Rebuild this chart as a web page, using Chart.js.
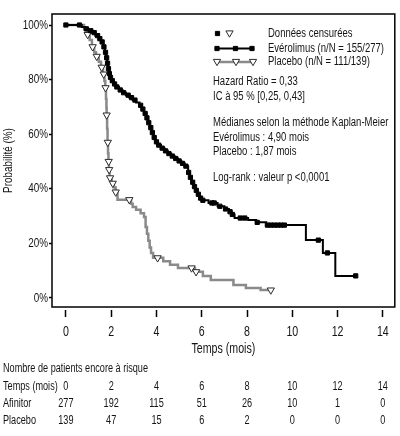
<!DOCTYPE html>
<html><head><meta charset="utf-8">
<script src="https://cdn.jsdelivr.net/npm/chart.js@4.4.0/dist/chart.umd.min.js"></script>
<style>html,body{margin:0;padding:0;background:#fff;overflow:hidden}#wrap{width:400px;height:436px;position:relative}</style>
</head><body><div id="wrap"><canvas id="c"></canvas></div>
<script>
const FONT = '"Liberation Sans","Arial",sans-serif';
const CONDENSE = 0.76; // horizontal text condensing (narrow face look)

// Evérolimus (Afinitor) Kaplan-Meier steps: time (months), survival (%)
const everoTime = [0,0.7,0.85,1.0,1.15,1.3,1.45,1.55,1.65,1.72,1.78,1.82,1.86,1.9,1.95,2.0,2.1,2.2,2.35,2.5,2.65,2.8,2.95,3.1,3.25,3.35,3.45,3.55,3.62,3.7,3.78,3.86,3.95,4.05,4.2,4.35,4.5,4.65,4.8,4.95,5.1,5.25,5.4,5.48,5.56,5.64,5.72,5.8,5.9,6.0,6.3,6.7,7.0,7.2,7.32,7.45,8.05,8.4,8.85,10.6,11.35,11.9,12.8];
const everoSurv = [100,99.3,98.6,97.9,97.2,96.1,95.0,93.8,92.0,90.0,88.0,86.0,84.0,82.2,80.8,79.6,78.4,77.3,76.2,75.2,74.3,73.4,72.5,71.6,70.6,69.2,67.6,66.0,64.2,62.4,60.6,58.8,57.2,56.0,54.9,53.9,52.9,52.0,51.1,50.2,49.3,48.3,46.0,44.2,42.4,40.8,39.4,38.0,36.6,35.8,34.8,33.6,32.6,31.6,30.6,29.3,28.6,27.7,26.7,21.2,16.5,8.1,8.1];
// Evérolimus censored observations
const everoCensTime = [0,0.6,0.9,1.1,1.25,1.4,1.5,1.6,1.68,1.75,1.8,1.84,1.88,1.92,1.97,2.05,2.15,2.25,2.4,2.55,2.75,2.9,3.05,3.3,3.4,3.5,3.58,3.66,3.75,3.82,3.9,4.0,4.1,4.25,4.4,4.55,4.7,4.85,5.0,5.15,5.3,5.42,5.5,5.6,5.68,5.76,5.85,5.95,6.05,6.45,6.55,6.8,7.05,7.25,7.35,7.7,7.9,8.45,8.9,9.05,9.2,9.35,9.5,9.65,11.15,11.55,12.8];
const everoCensSurv = [100,100,98.6,97.9,97.2,96.1,95.0,93.8,92.0,90.0,88.0,86.0,84.0,82.2,80.8,79.6,78.4,77.3,76.2,75.2,74.3,73.4,72.5,70.6,69.2,67.6,66.0,64.2,62.4,60.6,58.8,57.2,56.0,54.9,53.9,52.9,52.0,51.1,50.2,49.3,48.3,46.0,44.2,42.4,40.8,39.4,38.0,36.6,35.8,34.8,34.8,33.6,32.6,31.6,30.6,29.3,29.3,27.7,26.7,26.7,26.7,26.7,26.7,26.7,21.2,16.5,8.1];

// Placebo Kaplan-Meier steps
const placeboTime = [0,0.8,0.92,1.05,1.15,1.25,1.33,1.45,1.55,1.64,1.7,1.74,1.77,1.79,1.8,1.82,1.84,1.86,1.88,1.9,1.93,2.02,2.12,2.2,2.28,2.88,2.95,3.1,3.3,3.45,3.52,3.58,3.64,3.7,3.76,3.85,4.3,4.6,4.95,5.7,6.05,6.4,7.4,7.95,8.6,9.05];
const placeboSurv = [100,98.5,96.5,94.5,92.0,90.0,88.5,86.5,84.5,82.0,79.5,77.0,73.0,69.5,67.0,62.0,57.0,53.0,50.0,47.0,44.0,42.0,40.5,38.8,36.0,34.5,33.3,32.3,31.0,29.7,26.0,23.5,21.0,18.5,16.5,14.7,13.5,12.2,11.0,9.6,8.1,6.6,4.8,3.7,2.9,2.9];
// Placebo censored observations
const placeboCensTime = [0.96,1.18,1.36,1.58,1.67,1.75,1.8,1.85,1.89,1.91,1.95,2.07,2.2,2.8,4.05,5.55,5.75,9.05];
const placeboCensSurv = [96.5,92.0,88.5,84.5,82.0,77.0,67.0,57.0,50.0,47.0,44.0,42.0,38.8,36.0,14.7,11.0,9.6,2.9];

const xTicks = [0,2,4,6,8,10,12,14];
const yTicks = [0,20,40,60,80,100];

// Number at risk table
const riskTitle = 'Nombre de patients encore à risque';
const riskRowLabels = ['Temps (mois)','Afinitor','Placebo'];
const riskTimes = [0,2,4,6,8,10,12,14];
const riskAfinitor = [277,192,115,51,26,10,1,0];
const riskPlacebo = [139,47,15,6,2,0,0,0];

// Legend / annotation texts
const legendLabels = ['Données censurées','Evérolimus (n/N = 155/277)','Placebo (n/N = 111/139)'];
const statLines = ['Hazard Ratio = 0,33','IC à 95 % [0,25, 0,43]','Médianes selon la méthode Kaplan-Meier','Evérolimus : 4,90 mois','Placebo : 1,87 mois','Log-rank : valeur p <0,0001'];

const toXY = (xs, ys) => xs.map((x, i) => ({x, y: ys[i]}));

const BLACK = '#000';
const GREY = '#8a8a8a';
const TXT = '#141414';
const TRI_EDGE = '#2a2a2a';

// condensed text rendering on the canvas context (keeps real fillText text)
const canvas = document.getElementById('c');
const ctx0 = canvas.getContext('2d');
const origFill = ctx0.fillText.bind(ctx0);
const origMeasure = ctx0.measureText.bind(ctx0);
ctx0.fillText = function(t, x, y, mw) {
  this.save(); this.translate(x, y); this.scale(CONDENSE, 1);
  if (mw === undefined || mw === null) origFill(t, 0, 0); else origFill(t, 0, 0, mw / CONDENSE);
  this.restore();
};
ctx0.measureText = function(t) {
  const m = origMeasure(t);
  return {width: m.width * CONDENSE, actualBoundingBoxLeft: m.actualBoundingBoxLeft * CONDENSE,
    actualBoundingBoxRight: m.actualBoundingBoxRight * CONDENSE, actualBoundingBoxAscent: m.actualBoundingBoxAscent,
    actualBoundingBoxDescent: m.actualBoundingBoxDescent, fontBoundingBoxAscent: m.fontBoundingBoxAscent,
    fontBoundingBoxDescent: m.fontBoundingBoxDescent};
};

const sqStyle = {pointStyle:'rect', radius:3, rotation:0, borderWidth:1, backgroundColor:BLACK, borderColor:BLACK};
const triStyle = {pointStyle:'triangle', radius:4.2, rotation:180, borderWidth:1, backgroundColor:'#fff', borderColor:TRI_EDGE};

function legendMark(ctx, st, px, py) {
  ctx.save();
  ctx.fillStyle = st.backgroundColor; ctx.strokeStyle = st.borderColor; ctx.lineWidth = st.borderWidth;
  Chart.helpers.drawPoint(ctx, st, px, py);
  ctx.restore();
}

const decor = {
  id:'decor',
  afterDraw(chart){
    const {ctx, chartArea:a, scales:{x}} = chart;
    ctx.save();
    // frame
    ctx.strokeStyle = BLACK; ctx.lineWidth = 1.5;
    ctx.strokeRect(a.left, a.top, a.right - a.left, a.bottom - a.top);

    // legend box
    const lx = a.left + 163, tx = a.left + 216;
    const rows = [a.top + 19.5, a.top + 34.5, a.top + 48];
    legendMark(ctx, sqStyle, lx + 2.5, rows[0]);
    legendMark(ctx, triStyle, lx + 14.5, rows[0] - 0.5);
    ctx.lineWidth = 2; ctx.strokeStyle = BLACK;
    ctx.beginPath(); ctx.moveTo(lx, rows[1]); ctx.lineTo(lx + 38, rows[1]); ctx.stroke();
    [2, 20.5, 37].forEach(d => legendMark(ctx, sqStyle, lx + d, rows[1]));
    ctx.lineWidth = 2.5; ctx.strokeStyle = GREY;
    ctx.beginPath(); ctx.moveTo(lx, rows[2]); ctx.lineTo(lx + 39, rows[2]); ctx.stroke();
    [2, 21, 38].forEach(d => legendMark(ctx, triStyle, lx + d, rows[2] - 0.5));

    ctx.fillStyle = TXT; ctx.font = '12.5px ' + FONT;
    ctx.textBaseline = 'middle'; ctx.textAlign = 'left';
    legendLabels.forEach((t, i) => ctx.fillText(t, tx, rows[i]));
    const sx = a.left + 161;
    const sy = [67.5, 82.5, 109, 123.5, 138, 164];
    statLines.forEach((t, i) => ctx.fillText(t, sx, a.top + sy[i]));

    // risk table
    ctx.font = '12px ' + FONT;
    const ry = [369, 387, 404, 421];
    ctx.textAlign = 'left';
    ctx.fillText(riskTitle, 3, ry[0]);
    riskRowLabels.forEach((t, i) => ctx.fillText(t, 3, ry[i + 1]));
    ctx.textAlign = 'center';
    [riskTimes, riskAfinitor, riskPlacebo].forEach((row, r) => {
      row.forEach((v, i) => ctx.fillText(String(v), x.getPixelForValue(riskTimes[i]), ry[r + 1]));
    });
    ctx.restore();
  }
};

new Chart(canvas, {
  type: 'line',
  data: {
    datasets: [
      {label:'Evérolimus censurés', type:'scatter', data: toXY(everoCensTime, everoCensSurv), showLine:false,
       pointStyle:'rect', pointRadius:3, pointBorderWidth:1, pointBackgroundColor:BLACK, pointBorderColor:BLACK, order:0},
      {label:'Evérolimus', data: toXY(everoTime, everoSurv), stepped:'before', borderColor:BLACK, borderWidth:2, pointRadius:0, fill:false, order:1},
      {label:'Placebo censurés', type:'scatter', data: toXY(placeboCensTime, placeboCensSurv), showLine:false,
       pointStyle:'triangle', rotation:180, pointRadius:4.2, pointBorderWidth:1, pointBackgroundColor:'#fff', pointBorderColor:TRI_EDGE, order:2},
      {label:'Placebo', data: toXY(placeboTime, placeboSurv), stepped:'before', borderColor:GREY, borderWidth:2.5, pointRadius:0, fill:false, order:3}
    ]
  },
  options: {
    responsive:true, maintainAspectRatio:false, animation:false,
    layout:{padding:{top:14, right:2.5, bottom:78, left:0}},
    plugins:{legend:{display:false}, tooltip:{enabled:false}},
    scales:{
      x:{type:'linear', min:-0.614, max:14.527,
        afterBuildTicks: s => { s.ticks = xTicks.map(v => ({value:v})); },
        afterFit: s => { s.height = 51; },
        grid:{display:true, drawOnChartArea:false, drawTicks:true, tickLength:10, tickColor:BLACK, tickWidth:1.5, tickBorderDash:[0,3,7,40]},
        border:{display:false},
        ticks:{padding:7, color:TXT, font:{family:FONT, size:14}, maxRotation:0, autoSkip:false},
        title:{display:true, text:'Temps (mois)', color:TXT, font:{family:FONT, size:14}, padding:{top:2, bottom:0}}
      },
      y:{type:'linear', min:-3.3, max:104.03,
        afterBuildTicks: s => { s.ticks = yTicks.map(v => ({value:v})); },
        afterFit: s => { s.width = 52; },
        grid:{display:true, drawOnChartArea:false, tickLength:3, tickColor:BLACK, tickWidth:1.5},
        border:{display:false},
        ticks:{padding:1, color:TXT, font:{family:FONT, size:13}, callback: v => v + '%'},
        title:{display:true, text:'Probabilité (%)', color:TXT, font:{family:FONT, size:13}, padding:{top:1, bottom:0}}
      }
    }
  },
  plugins:[decor]
});
</script></body></html>
